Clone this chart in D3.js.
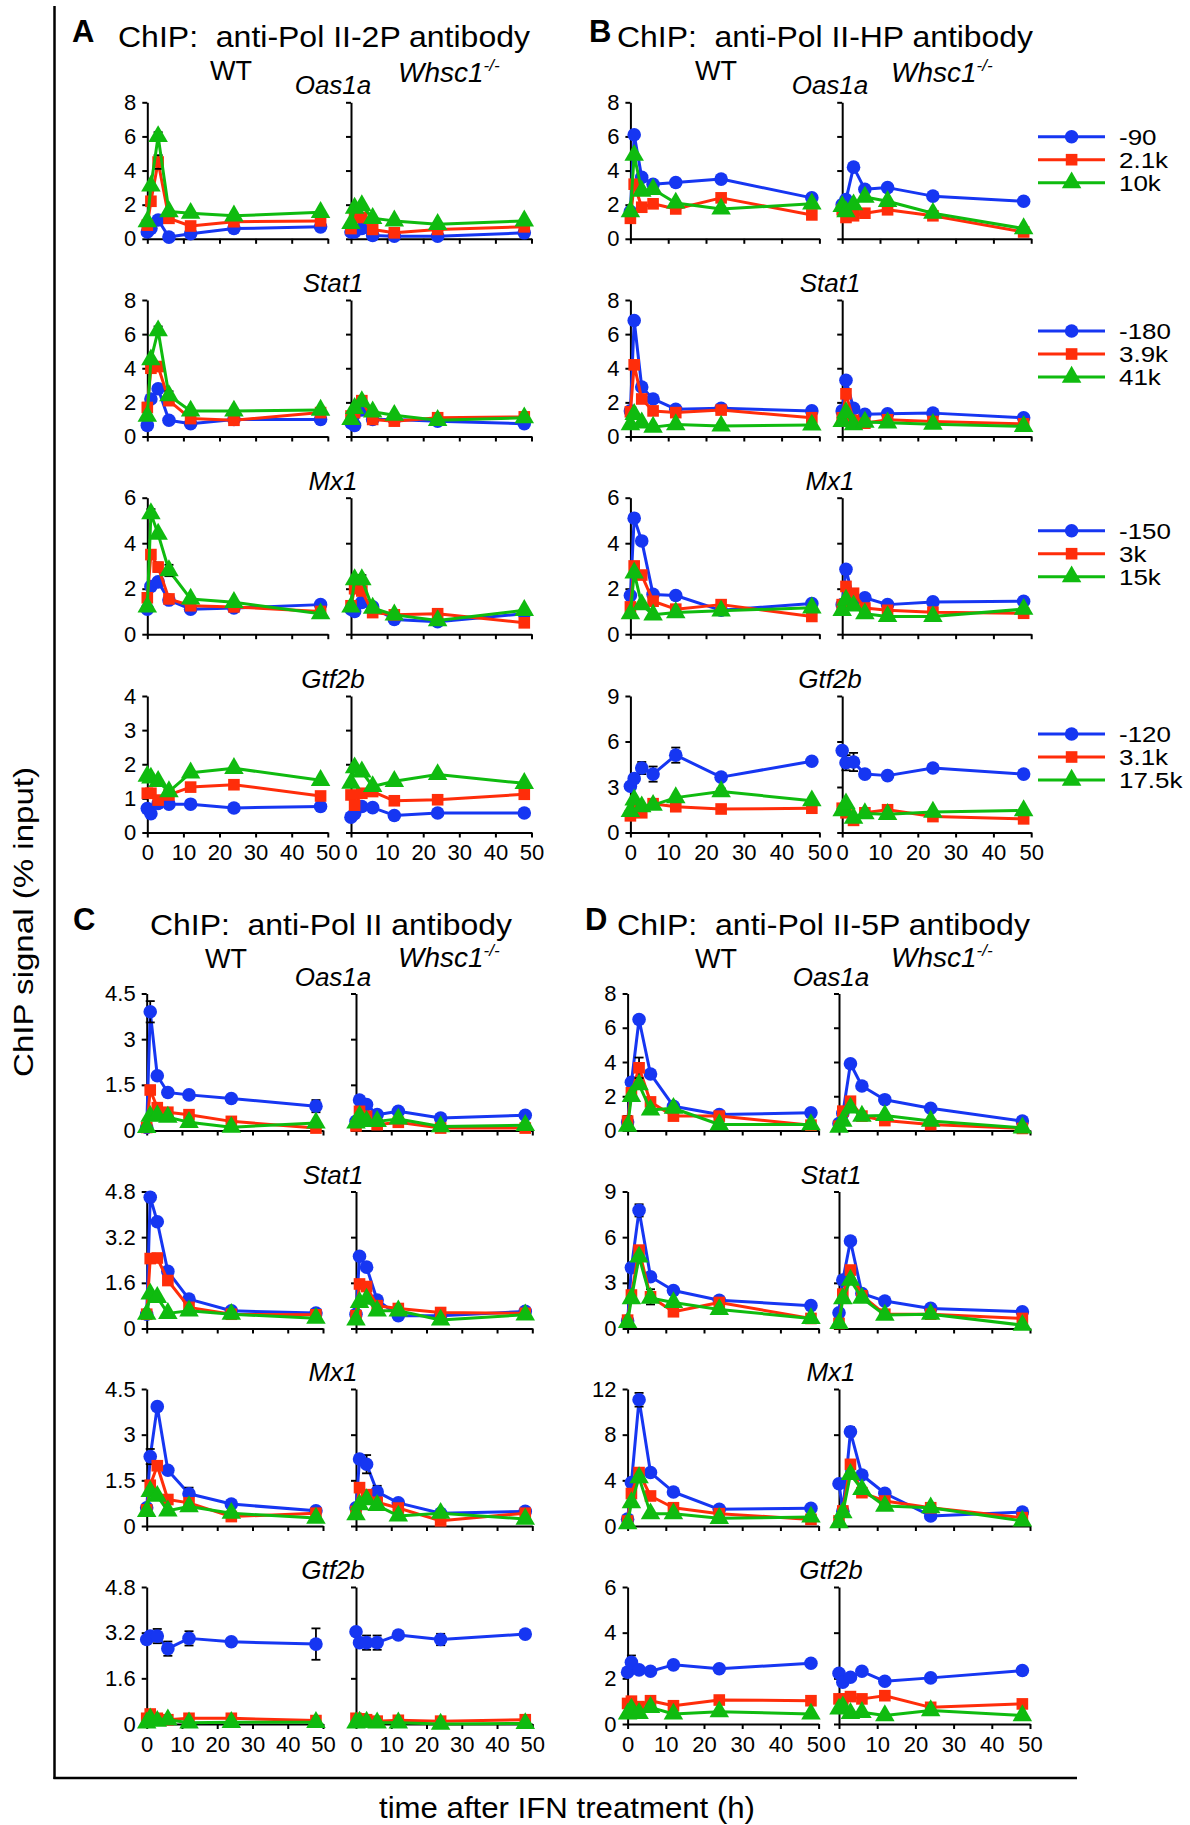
<!DOCTYPE html>
<html>
<head>
<meta charset="utf-8">
<script src="https://cdn.jsdelivr.net/npm/d3@7"></script>
<style>
  body { margin: 0; background: #fff; }
  text { font-family: "Liberation Sans", Arial, Helvetica, sans-serif; fill: #000; }
</style>
</head>
<body>
<script>
// ---------------- DATA ----------------
const times = [0, 1, 3, 6, 12, 24, 48];
const genes = ["Oas1a", "Stat1", "Mx1", "Gtf2b"];
const xTicks = [0, 10, 20, 30, 40, 50];
const yTicksA = [[0,2,4,6,8],[0,2,4,6,8],[0,2,4,6],[0,1,2,3,4]];
const yTicksB = [[0,2,4,6,8],[0,2,4,6,8],[0,2,4,6],[0,3,6,9]];
const yTicksC = [[0,1.5,3,4.5],[0,1.6,3.2,4.8],[0,1.5,3,4.5],[0,1.6,3.2,4.8]];
const yTicksD = [[0,2,4,6,8],[0,3,6,9],[0,4,8,12],[0,2,4,6]];
const legendLabelsB = [["-90","2.1k","10k"],["-180","3.9k","41k"],["-150","3k","15k"],["-120","3.1k","17.5k"]];
const panelTitles = ["ChIP:  anti-Pol II-2P antibody","ChIP:  anti-Pol II-HP antibody","ChIP:  anti-Pol II antibody","ChIP:  anti-Pol II-5P antibody"];

// each array: [blue, red, green] series over times
const A_Oas1a_WT = [[0.4,0.6,1.1,0.1,0.3,0.6,0.7],[0.8,2.2,4.5,1.2,0.75,1.0,1.05],[1.0,3.1,6.0,1.6,1.5,1.35,1.55]];
const A_Oas1a_KO = [[0.4,0.4,0.6,0.2,0.15,0.15,0.35],[0.6,1.3,1.25,0.55,0.35,0.55,0.7],[0.9,1.8,1.95,1.2,1.05,0.85,1.05]];
const A_Stat1_WT = [[0.65,2.2,2.8,0.95,0.75,1.0,1.0],[1.7,4.0,4.1,2.1,1.05,0.95,1.4],[1.2,4.5,6.2,2.4,1.5,1.5,1.55]];
const A_Stat1_KO = [[0.8,0.65,1.55,1.0,1.0,0.9,0.75],[1.2,1.4,2.1,1.0,0.9,1.1,1.15],[1.0,1.65,2.05,1.45,1.25,0.95,1.1]];
const A_Mx1_WT = [[1.1,2.1,2.3,1.5,1.1,1.15,1.3],[1.6,3.5,2.95,1.55,1.25,1.2,1.0],[1.2,5.3,4.4,2.8,1.55,1.4,0.9]];
const A_Mx1_KO = [[1.1,1.0,1.4,1.2,0.65,0.55,0.9],[1.25,2.0,1.9,0.95,0.85,0.9,0.5],[1.2,2.4,2.4,1.15,0.85,0.6,1.05]];
const A_Gtf2b_WT = [[0.7,0.55,0.85,0.83,0.83,0.72,0.76],[1.15,1.15,0.95,1.1,1.33,1.4,1.07],[1.65,1.6,1.5,1.2,1.75,1.88,1.53]];
const A_Gtf2b_KO = [[0.45,0.55,0.76,0.73,0.5,0.57,0.57],[1.1,0.8,1.15,1.2,0.93,0.96,1.12],[1.45,1.9,1.78,1.35,1.5,1.7,1.44]];

const B_Oas1a_WT = [[1.6,6.1,3.6,3.2,3.3,3.5,2.4],[1.2,3.2,1.85,2.05,1.75,2.4,1.4],[1.6,4.9,2.8,2.9,2.1,1.75,2.05]];
const B_Oas1a_KO = [[2.0,2.3,4.2,2.9,3.0,2.5,2.2],[1.7,1.25,1.35,1.5,1.7,1.35,0.4],[1.9,1.6,2.0,2.45,2.2,1.5,0.6]];
const B_Stat1_WT = [[1.5,6.8,2.9,2.2,1.6,1.65,1.5],[1.45,4.2,2.2,1.5,1.4,1.55,1.1],[0.7,1.3,0.8,0.55,0.7,0.62,0.68]];
const B_Stat1_KO = [[1.5,3.3,1.65,1.3,1.33,1.37,1.1],[1.1,2.5,0.95,0.78,0.98,0.88,0.74],[0.88,1.4,0.7,0.85,0.8,0.72,0.6]];
const B_Mx1_WT = [[1.7,5.1,4.1,1.75,1.7,1.05,1.35],[1.2,3.0,2.6,1.45,1.1,1.3,0.78],[0.9,2.7,1.3,0.85,0.95,1.03,1.16]];
const B_Mx1_KO = [[1.3,2.85,1.5,1.6,1.3,1.42,1.45],[1.3,2.1,1.8,1.15,1.05,0.97,0.92],[1.05,1.5,1.25,0.9,0.78,0.78,1.1]];
const B_Gtf2b_WT = [[3.05,3.55,4.25,3.85,5.1,3.65,4.7],[1.1,1.5,1.3,1.9,1.7,1.55,1.6],[1.4,2.15,1.7,1.8,2.3,2.7,2.1]];
const B_Gtf2b_KO = [[5.4,4.6,4.65,3.85,3.75,4.25,3.85],[1.6,1.3,0.8,1.3,1.5,1.05,0.9],[1.45,1.9,0.95,1.25,1.2,1.35,1.45]];

const C_Oas1a_WT = [[0.1,3.9,1.8,1.25,1.17,1.05,0.8],[0.1,1.33,0.75,0.6,0.52,0.3,0.08],[0.1,0.47,0.49,0.44,0.27,0.11,0.25]];
const C_Oas1a_KO = [[0.3,1.0,0.85,0.52,0.63,0.41,0.5],[0.15,0.63,0.47,0.19,0.27,0.08,0.08],[0.25,0.47,0.3,0.3,0.38,0.13,0.17]];
const C_Stat1_WT = [[0.5,4.6,3.74,2.0,1.03,0.62,0.54],[0.5,2.45,2.47,1.68,0.74,0.5,0.48],[0.5,1.21,1.09,0.53,0.62,0.5,0.36]];
const C_Stat1_KO = [[0.5,2.53,2.15,1.0,0.45,0.45,0.6],[0.45,1.56,1.47,0.8,0.7,0.56,0.53],[0.3,0.92,1.03,0.62,0.62,0.3,0.48]];
const C_Mx1_WT = [[0.6,2.28,3.92,1.83,1.06,0.72,0.5],[0.53,1.34,1.98,0.87,0.76,0.31,0.42],[0.48,1.14,0.98,0.5,0.64,0.42,0.26]];
const C_Mx1_KO = [[0.6,2.2,2.03,1.12,0.76,0.42,0.48],[0.48,1.26,1.03,0.78,0.59,0.17,0.42],[0.37,0.7,0.87,0.68,0.33,0.42,0.23]];
const C_Gtf2b_WT = [[2.96,3.08,3.08,2.64,3.0,2.88,2.8],[0.2,0.35,0.2,0.15,0.2,0.2,0.12],[0.04,0.18,0.1,0.15,0.04,0.06,0.06]];
const C_Gtf2b_KO = [[3.23,2.85,2.85,2.85,3.12,2.96,3.15],[0.2,0.18,0.15,0.1,0.13,0.1,0.15],[0.04,0.07,0.07,0.04,0.04,0.0,0.02]];

const D_Oas1a_WT = [[0.5,2.82,6.48,3.3,1.42,0.93,1.03],[0.55,2.2,3.66,1.67,0.84,0.84,0.31],[0.25,2.0,2.68,1.2,1.3,0.35,0.35]];
const D_Oas1a_KO = [[0.4,1.0,3.9,2.6,1.8,1.3,0.55],[0.25,1.13,1.71,0.84,0.58,0.35,0.12],[0.2,0.55,1.32,0.84,0.88,0.55,0.16]];
const D_Stat1_WT = [[0.5,4.0,7.76,3.4,2.5,1.86,1.5],[0.55,2.2,5.15,2.08,1.1,1.71,0.66],[0.4,1.97,4.7,2.0,1.71,1.25,0.66]];
const D_Stat1_KO = [[1.03,3.18,5.75,2.3,1.8,1.32,1.1],[0.33,2.26,3.84,2.15,0.94,0.94,0.66],[0.33,1.97,3.18,2.0,0.88,0.94,0.22]];
const D_Mx1_WT = [[0.6,3.8,11.06,4.68,2.98,1.46,1.55],[0.44,2.84,4.68,2.63,1.6,1.08,0.58],[0.2,2.05,4.24,1.08,1.08,0.67,0.79]];
const D_Mx1_KO = [[3.7,1.3,8.25,4.47,2.87,0.88,1.23],[0.44,1.32,5.4,2.92,2.19,1.6,0.73],[0.3,1.17,4.53,3.2,1.75,1.6,0.44]];
const D_Gtf2b_WT = [[2.27,2.7,2.37,2.31,2.59,2.42,2.66],[0.9,1.0,0.76,1.02,0.8,1.05,1.02],[0.44,0.66,0.47,0.73,0.44,0.54,0.44]];
const D_Gtf2b_KO = [[2.22,1.83,2.05,2.31,1.87,2.02,2.34],[1.1,1.1,1.2,1.1,1.24,0.73,0.88],[0.66,0.76,0.47,0.51,0.37,0.59,0.37]];

// error bars: [panel, gene index, genotype, series index, time index, half-range]
const errorBars = [
  ["A",0,"WT",2,2,0.25],["A",0,"WT",1,2,0.4],["A",1,"WT",2,2,0.25],["A",1,"WT",2,3,0.25],
  ["A",2,"WT",2,1,0.2],["A",2,"WT",2,3,0.25],["A",2,"WT",1,2,0.2],["A",2,"KO",2,2,0.2],
  ["B",3,"WT",0,2,0.4],["B",3,"WT",0,3,0.5],["B",3,"WT",0,4,0.5],["B",3,"KO",0,1,0.5],["B",3,"KO",0,2,0.6],["B",3,"WT",2,5,0.2],
  ["C",0,"WT",0,1,0.35],["C",0,"WT",0,6,0.2],["C",1,"WT",0,1,0.15],["C",1,"WT",0,2,0.12],
  ["C",2,"WT",0,1,0.25],["C",2,"KO",0,2,0.3],["C",2,"KO",0,3,0.2],["C",2,"WT",0,4,0.2],
  ["C",3,"WT",0,2,0.25],["C",3,"WT",0,3,0.25],["C",3,"WT",0,4,0.25],["C",3,"WT",0,6,0.55],
  ["C",3,"KO",0,5,0.2],["C",3,"KO",0,2,0.25],["C",3,"KO",0,3,0.25],
  ["D",0,"WT",0,2,0.2],["D",0,"WT",1,2,0.6],["D",0,"WT",1,0,0.3],["D",1,"WT",0,2,0.4],["D",1,"WT",1,3,0.5],
  ["D",2,"WT",0,2,0.6],["D",2,"KO",0,2,0.4],["D",3,"WT",0,1,0.3]
];

// lookup table built from the named arrays
const DATA = {
  A_Oas1a_WT, A_Oas1a_KO, A_Stat1_WT, A_Stat1_KO, A_Mx1_WT, A_Mx1_KO, A_Gtf2b_WT, A_Gtf2b_KO,
  B_Oas1a_WT, B_Oas1a_KO, B_Stat1_WT, B_Stat1_KO, B_Mx1_WT, B_Mx1_KO, B_Gtf2b_WT, B_Gtf2b_KO,
  C_Oas1a_WT, C_Oas1a_KO, C_Stat1_WT, C_Stat1_KO, C_Mx1_WT, C_Mx1_KO, C_Gtf2b_WT, C_Gtf2b_KO,
  D_Oas1a_WT, D_Oas1a_KO, D_Stat1_WT, D_Stat1_KO, D_Mx1_WT, D_Mx1_KO, D_Gtf2b_WT, D_Gtf2b_KO
};

// ---------------- LAYOUT ----------------
const colors = ["#1636f2", "#ff2d0a", "#0fbb0f"];
const symbols = [d3.symbolCircle, d3.symbolSquare, d3.symbolTriangle];
const symSizes = [145, 135, 165];

const topsAB = [102.3, 300, 497.7, 696];
const topsCD = [993.5, 1191.5, 1389, 1587];
const panels = [
  {id:"A", title:panelTitles[0], letter:[72,42], tpos:[118,47], tlen:412, wtX:147.3, koX:351, w:180.5, tops:topsAB, h:136.5, yt:yTicksA, wt:[210,80], ko:[398,82], geneX:333, legend:false},
  {id:"B", title:panelTitles[1], letter:[589,42], tpos:[617,47], tlen:416, wtX:630.4, koX:842.2, w:189, tops:topsAB, h:136.5, yt:yTicksB, wt:[695,80], ko:[891,82], geneX:830, legend:true},
  {id:"C", title:panelTitles[2], letter:[73,930], tpos:[150,935], tlen:362, wtX:146.7, koX:356, w:176.3, tops:topsCD, h:137, yt:yTicksC, wt:[205,968], ko:[398,967], geneX:333, legend:false},
  {id:"D", title:panelTitles[3], letter:[585,930], tpos:[617,935], tlen:413, wtX:627.6, koX:839, w:191, tops:topsCD, h:137, yt:yTicksD, wt:[695,968], ko:[891,967], geneX:831, legend:false}
];
const legendOffsets = [34.4, 31, 33, 38];

const svg = d3.select("body").append("svg").attr("width", 1190).attr("height", 1825);

// frame lines
svg.append("line").attr("x1",54.5).attr("x2",54.5).attr("y1",6).attr("y2",1779).attr("stroke","#000").attr("stroke-width",2.5);
svg.append("line").attr("x1",53.5).attr("x2",1077).attr("y1",1778).attr("y2",1778).attr("stroke","#000").attr("stroke-width",2.5);

// global axis titles
svg.append("text").attr("transform","translate(33,922) rotate(-90)").attr("text-anchor","middle")
  .attr("font-size",28).attr("textLength",310).attr("lengthAdjust","spacingAndGlyphs").text("ChIP signal (% input)");
svg.append("text").attr("x",567).attr("y",1818).attr("text-anchor","middle")
  .attr("font-size",29).attr("textLength",376).attr("lengthAdjust","spacingAndGlyphs").text("time after IFN treatment (h)");

function styleAxis(g) {
  g.attr("font-size", 22).attr("font-family", '"Liberation Sans", Arial, Helvetica, sans-serif');
  g.selectAll(".domain").attr("stroke-width", 2);
  g.selectAll(".tick line").attr("stroke-width", 2);
  g.selectAll(".tick text").attr("fill", "#000");
}

panels.forEach(p => {
  svg.append("text").attr("x", p.letter[0]).attr("y", p.letter[1]).attr("font-weight","bold").attr("font-size",31).text(p.id);
  svg.append("text").attr("x", p.tpos[0]).attr("y", p.tpos[1]).attr("font-size",30).style("white-space","pre")
    .attr("textLength", p.tlen).attr("lengthAdjust","spacingAndGlyphs").text(p.title);
  svg.append("text").attr("x", p.wt[0]).attr("y", p.wt[1]).attr("font-size",27).text("WT");
  const ko = svg.append("text").attr("x", p.ko[0]).attr("y", p.ko[1]).attr("font-size",28).attr("font-style","italic");
  ko.append("tspan").text("Whsc1");
  ko.append("tspan").attr("font-size",17).attr("dy",-11).text("-/-");

  genes.forEach((gene, gi) => {
    const top = p.tops[gi], bottom = top + p.h;
    const yt = p.yt[gi];
    const y = d3.scaleLinear().domain([0, d3.max(yt)]).range([bottom, top]);
    svg.append("text").attr("x", p.geneX).attr("y", top - 8).attr("text-anchor","middle")
      .attr("font-size",26).attr("font-style","italic").text(gene);

    ["WT","KO"].forEach((geno, k) => {
      const x0 = k === 0 ? p.wtX : p.koX;
      const x = d3.scaleLinear().domain([0, 50]).range([x0, x0 + p.w]);
      const yAx = svg.append("g").attr("transform", `translate(${x0},0)`)
        .call(d3.axisLeft(y).tickValues(yt).tickSize(5).tickSizeOuter(0).tickPadding(6)
          .tickFormat(k === 0 ? (d => String(d)) : () => ""));
      styleAxis(yAx);
      const xAx = svg.append("g").attr("transform", `translate(0,${bottom})`)
        .call(d3.axisBottom(x).tickValues(xTicks).tickSize(5).tickSizeOuter(0).tickPadding(7)
          .tickFormat(gi === 3 ? (d => String(d)) : () => ""));
      styleAxis(xAx);

      const series = DATA[`${p.id}_${gene}_${geno}`];
      const line = d3.line().x((d, i) => x(times[i])).y(d => y(d));
      series.forEach((vals, si) => {
        const g = svg.append("g");
        g.append("path").attr("d", line(vals)).attr("fill","none").attr("stroke", colors[si])
          .attr("stroke-width", 3).attr("stroke-linejoin","round");
        errorBars.filter(e => e[0] === p.id && e[1] === gi && e[2] === geno && e[3] === si).forEach(e => {
          const cx = x(times[e[4]]), v = vals[e[4]];
          const y1 = y(v - e[5]), y2 = y(v + e[5]);
          g.append("line").attr("x1",cx).attr("x2",cx).attr("y1",y1).attr("y2",y2).attr("stroke","#000").attr("stroke-width",1.8);
          [y1, y2].forEach(yy => g.append("line").attr("x1",cx-4.5).attr("x2",cx+4.5).attr("y1",yy).attr("y2",yy).attr("stroke","#000").attr("stroke-width",1.8));
        });
        g.selectAll("path.pt").data(vals).enter().append("path").attr("class","pt")
          .attr("transform", (d, i) => `translate(${x(times[i])},${y(d)})`)
          .attr("d", d3.symbol().type(symbols[si]).size(symSizes[si]))
          .attr("fill", colors[si]);
      });
    });

    if (p.legend) {
      const ly0 = top + legendOffsets[gi];
      legendLabelsB[gi].forEach((lab, si) => {
        const ly = ly0 + si * 23;
        svg.append("line").attr("x1",1038).attr("x2",1105).attr("y1",ly).attr("y2",ly).attr("stroke",colors[si]).attr("stroke-width",3);
        svg.append("path").attr("transform",`translate(1071.6,${ly})`).attr("d", d3.symbol().type(symbols[si]).size(symSizes[si])).attr("fill",colors[si]);
        svg.append("text").attr("transform",`translate(1119,${ly + 8}) scale(1.18,1)`).attr("font-size",22).text(lab);
      });
    }
  });
});
</script>
</body>
</html>
